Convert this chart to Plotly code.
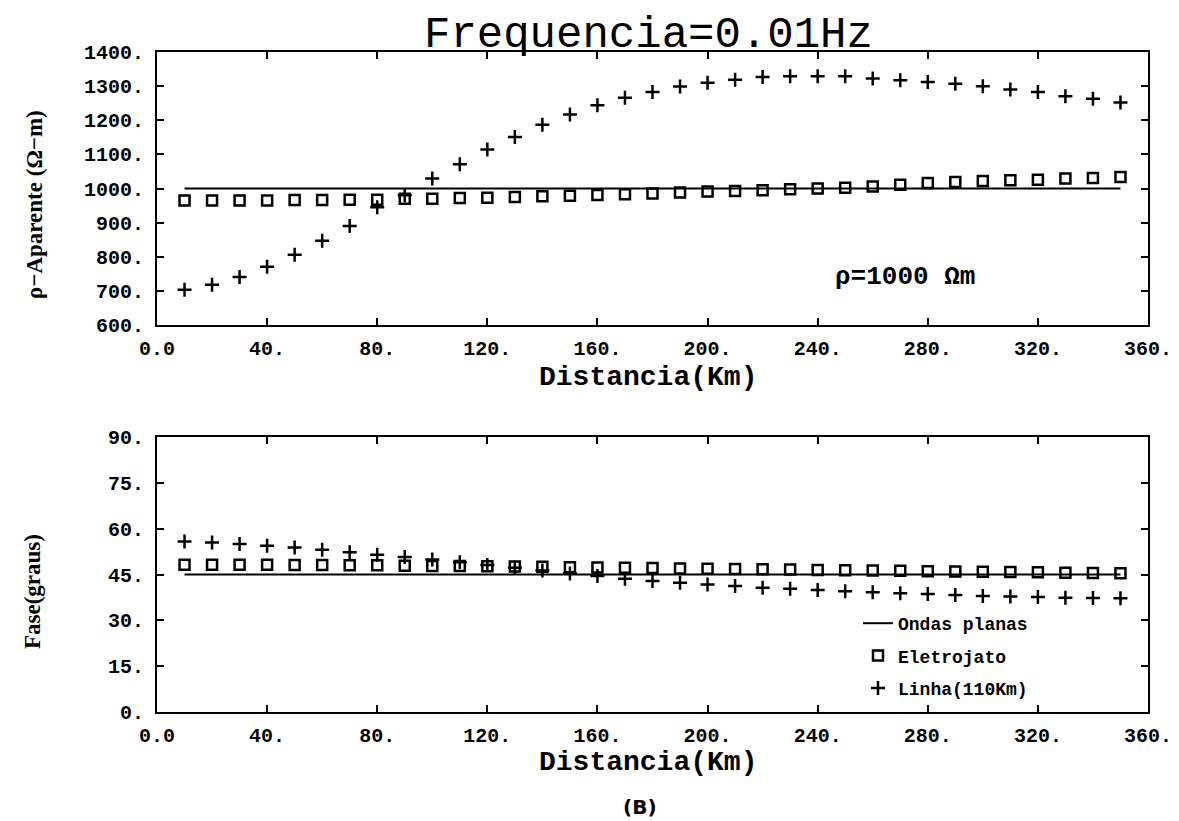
import plotly.graph_objects as go

# The page body has an 8px default margin, so the figure is drawn 8px in from the window edge.
OFF = 8
W, H = 1179 - OFF, 821 - OFF

dist = [10, 20, 30, 40, 50, 60, 70, 80, 90, 100, 110, 120, 130, 140, 150, 160, 170, 180,
        190, 200, 210, 220, 230, 240, 250, 260, 270, 280, 290, 300, 310, 320, 330, 340, 350]

rho_plane = [1000] * len(dist)
rho_eletrojato = [965, 965, 965, 965, 966, 966, 967, 967, 970, 970, 972, 973, 975, 977, 979, 981, 983,
                  985, 988, 991, 993, 995, 998, 1000, 1002, 1006, 1011, 1016, 1019, 1022, 1024, 1026,
                  1029, 1031, 1034]
rho_linha = [703, 718, 741, 771, 806, 847, 890, 945, 980, 1029, 1071, 1114, 1151, 1187, 1217, 1244,
             1266, 1283, 1299, 1310, 1319, 1327, 1329, 1329, 1329, 1322, 1317, 1312, 1307, 1300,
             1290, 1283, 1270, 1263, 1252]

fase_plane = [45] * len(dist)
fase_eletrojato = [48.2, 48.2, 48.2, 48.2, 48.1, 48.1, 48.0, 48.0, 47.9, 47.8, 47.8, 47.7, 47.6, 47.5,
                   47.4, 47.3, 47.2, 47.1, 47.0, 46.9, 46.8, 46.7, 46.6, 46.5, 46.4, 46.3, 46.2, 46.1,
                   46.0, 45.9, 45.8, 45.7, 45.6, 45.5, 45.4]
fase_linha = [55.8, 55.5, 55.0, 54.4, 53.8, 53.1, 52.3, 51.5, 50.7, 49.9, 49.0, 48.1, 47.2, 46.3, 45.3,
              44.5, 43.6, 42.9, 42.3, 41.7, 41.2, 40.7, 40.3, 39.9, 39.5, 39.2, 38.9, 38.6, 38.3, 38.0,
              37.8, 37.6, 37.4, 37.3, 37.2]

x_ticks = [0, 40, 80, 120, 160, 200, 240, 280, 320, 360]
x_ticktext = ["0.0", "40.", "80.", "120.", "160.", "200.", "240.", "280.", "320.", "360."]
rho_ticks = [600, 700, 800, 900, 1000, 1100, 1200, 1300, 1400]
rho_ticktext = ["600.", "700.", "800.", "900.", "1000.", "1100.", "1200.", "1300.", "1400."]
fase_ticks = [0, 15, 30, 45, 60, 75, 90]
fase_ticktext = ["0.", "15.", "30.", "45.", "60.", "75.", "90."]

names = ["Ondas planas", "Eletrojato", "Linha(110Km)"]

MONO = "Liberation Mono"
SERIF = "Liberation Serif"


def px_x(p):
    return (p - OFF) / W


def px_y(p):
    return 1 - (p - OFF) / H


fig = go.Figure()

series_top = [rho_plane, rho_eletrojato, rho_linha]
series_bot = [fase_plane, fase_eletrojato, fase_linha]

for ys, xa, ya, show in [(series_top, "x", "y", False), (series_bot, "x2", "y2", True)]:
    fig.add_trace(go.Scatter(x=dist, y=ys[0], mode="lines", line=dict(color="black", width=2),
                             name=names[0], xaxis=xa, yaxis=ya, showlegend=show, legendgroup="g1"))
    fig.add_trace(go.Scatter(x=dist, y=ys[1], mode="markers",
                             marker=dict(symbol="square-open", size=10, color="black",
                                         line=dict(width=2.5, color="black")),
                             name=names[1], xaxis=xa, yaxis=ya, showlegend=show, legendgroup="g2"))
    fig.add_trace(go.Scatter(x=dist, y=ys[2], mode="markers",
                             marker=dict(symbol="cross-thin", size=10, color="black",
                                         line=dict(width=2.5, color="black")),
                             name=names[2], xaxis=xa, yaxis=ya, showlegend=show, legendgroup="g3"))

tickfont = dict(family=MONO, size=20, color="black", weight="bold")
common_x = dict(range=[0, 360], tickvals=x_ticks, ticktext=x_ticktext, ticks="inside", ticklen=7,
                tickwidth=2, tickcolor="black", showline=True, linecolor="black", linewidth=2,
                mirror="ticks", showgrid=False, zeroline=False, tickfont=tickfont,
                ticklabelstandoff=4, automargin=False, domain=[px_x(157), px_x(1148)])
common_y = dict(ticks="inside", ticklen=7, tickwidth=2, tickcolor="black", showline=True,
                linecolor="black", linewidth=2, mirror="ticks", showgrid=False, zeroline=False,
                tickfont=tickfont, ticklabelstandoff=7, automargin=False)

fig.update_layout(
    template="none",
    width=W, height=H,
    margin=dict(l=0, r=0, t=0, b=0, autoexpand=False),
    paper_bgcolor="white", plot_bgcolor="white",
    xaxis=dict(**common_x, anchor="y"),
    yaxis=dict(**common_y, range=[600, 1400], tickvals=rho_ticks, ticktext=rho_ticktext,
               domain=[px_y(325), px_y(52)], anchor="x"),
    xaxis2=dict(**common_x, anchor="y2"),
    yaxis2=dict(**common_y, range=[0, 90], tickvals=fase_ticks, ticktext=fase_ticktext,
                domain=[px_y(712), px_y(437)], anchor="x2"),
    showlegend=True,
    legend=dict(x=px_x(858), y=px_y(605), xanchor="left", yanchor="top",
                font=dict(family=MONO, size=18, color="black", weight="bold"),
                bgcolor="rgba(0,0,0,0)", tracegroupgap=6, itemwidth=30),
)

annots = [
    dict(text="Frequencia=0.01Hz", x=px_x(648), y=1, yanchor="top",
         font=dict(family=MONO, size=44, color="black")),
    dict(text="Distancia(Km)", x=px_x(648), y=px_y(377), yanchor="middle",
         font=dict(family=MONO, size=28, color="black", weight="bold")),
    dict(text="Distancia(Km)", x=px_x(648), y=px_y(762), yanchor="middle",
         font=dict(family=MONO, size=28, color="black", weight="bold")),
    dict(text="ρ−Aparente (Ω−m)", x=px_x(34), y=px_y(205), textangle=-90, yanchor="middle",
         font=dict(family=SERIF, size=23, color="black", weight="bold")),
    dict(text="Fase(graus)", x=px_x(32), y=px_y(592), textangle=-90, yanchor="middle",
         font=dict(family=SERIF, size=23, color="black", weight="bold")),
    dict(text="ρ=1000 Ωm", x=px_x(905), y=px_y(277), yanchor="middle",
         font=dict(family=MONO, size=26, color="black", weight="bold")),
    dict(text="(B)", x=px_x(640), y=px_y(807), yanchor="middle",
         font=dict(family="DejaVu Sans", size=20, color="black", weight="bold")),
]
for a in annots:
    fig.add_annotation(xref="paper", yref="paper", showarrow=False, xanchor="center", **a)

fig.write_html("out.html")
